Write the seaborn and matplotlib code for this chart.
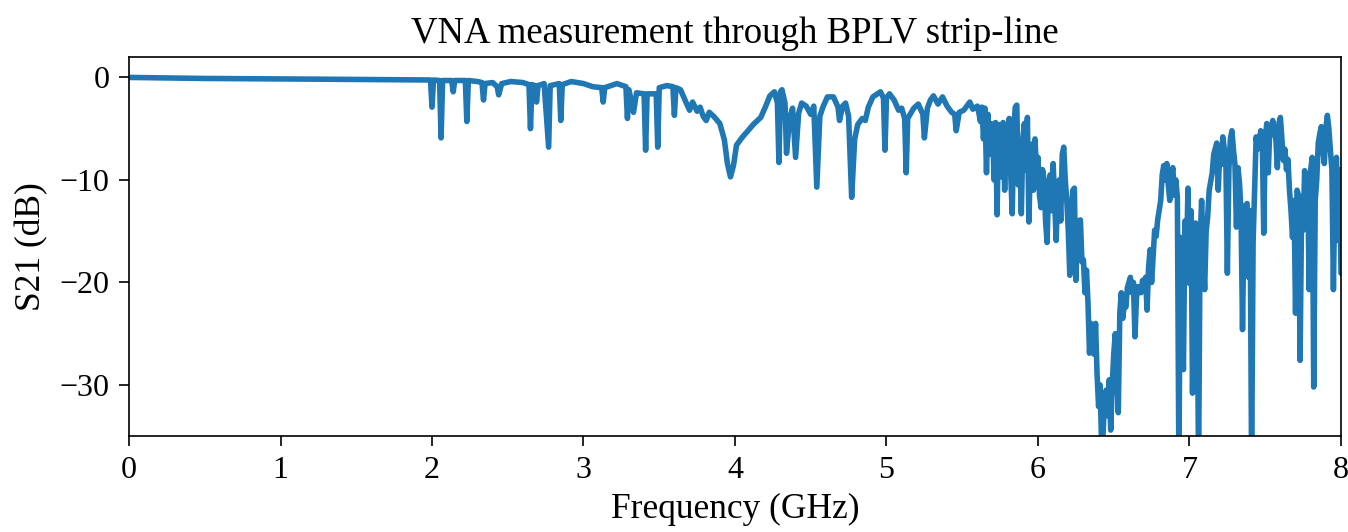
import matplotlib
matplotlib.use("Agg")
import matplotlib.pyplot as plt
import seaborn as sns
import pandas as pd

# ---- data (frequency in GHz, S21 in dB) ----
# flat pass band and isolated notches, 0 - 3.6 GHz
freq_low = [
    0.00, 0.25, 0.50, 0.75, 1.00, 1.25, 1.50, 1.75, 1.99,
    2.00, 2.01, 2.05, 2.06, 2.07, 2.13, 2.14, 2.15, 2.22, 2.23, 2.24,
    2.30, 2.33, 2.34, 2.35, 2.40, 2.43, 2.44, 2.46, 2.52, 2.60,
    2.64, 2.65, 2.66, 2.68, 2.69, 2.70, 2.74, 2.77, 2.78, 2.84, 2.85, 2.86,
    2.92, 3.00, 3.06, 3.12, 3.13, 3.14, 3.22, 3.28, 3.29, 3.30, 3.33, 3.35,
    3.40, 3.41, 3.42, 3.48, 3.49, 3.50, 3.55, 3.59,
]
s21_low = [
    0.00, -0.05, -0.10, -0.12, -0.15, -0.17, -0.20, -0.22, -0.25,
    -2.9, -0.25, -0.3, -5.9, -0.3, -0.3, -1.4, -0.3, -0.3, -4.3, -0.3,
    -0.4, -0.5, -2.2, -0.6, -0.5, -0.9, -1.7, -0.6, -0.4, -0.5,
    -0.7, -5.0, -0.7, -0.8, -2.4, -0.8, -0.6, -6.8, -0.8, -0.6, -4.2, -0.7,
    -0.4, -0.6, -0.9, -1.0, -2.4, -1.0, -0.6, -0.9, -4.0, -1.2, -3.4, -1.5,
    -1.6, -7.1, -1.6, -1.6, -6.8, -1.0, -0.8, -0.9,
]
# 3.6 - 5.6 GHz
freq_mid = [
    3.60, 3.61, 3.64, 3.67, 3.70, 3.72, 3.75, 3.77, 3.79, 3.81, 3.83,
    3.86, 3.90, 3.93, 3.95, 3.97, 3.99, 4.01, 4.05, 4.08, 4.12, 4.17,
    4.20, 4.23, 4.26, 4.28, 4.29, 4.30, 4.31, 4.33, 4.34, 4.36, 4.38,
    4.40, 4.42, 4.44, 4.47, 4.50, 4.52, 4.54, 4.56, 4.58, 4.61, 4.65,
    4.68, 4.69, 4.71, 4.73, 4.75, 4.77, 4.79, 4.81, 4.84, 4.86, 4.88,
    4.91, 4.94, 4.96, 4.98, 4.99, 5.00, 5.02, 5.05, 5.08, 5.10, 5.12,
    5.13, 5.14, 5.16, 5.18, 5.21, 5.24, 5.25, 5.27, 5.29, 5.31, 5.34,
    5.37, 5.40, 5.43, 5.45, 5.46, 5.48, 5.51, 5.53, 5.55, 5.57,
]
s21_mid = [
    -3.7, -1.0, -1.2, -2.2, -3.2, -2.4, -3.3, -2.9, -3.8, -4.2, -3.4,
    -3.8, -4.5, -6.1, -8.4, -9.7, -8.6, -6.6, -5.8, -5.3, -4.6, -3.9,
    -2.9, -1.8, -1.4, -2.5, -8.3, -1.4, -1.2, -2.5, -7.4, -4.0, -3.0,
    -7.8, -3.5, -2.5, -2.8, -3.6, -2.8, -10.7, -3.8, -2.9, -1.9, -1.9,
    -2.9, -4.2, -2.8, -2.5, -3.8, -11.7, -6.0, -4.6, -4.0, -4.2, -2.9,
    -1.9, -1.6, -1.4, -2.0, -7.1, -2.0, -1.6, -2.2, -3.2, -3.0, -4.0,
    -9.3, -4.0, -3.5, -3.0, -2.6, -3.6, -5.9, -3.0, -2.2, -1.8, -2.6,
    -1.9, -2.8, -3.4, -3.6, -5.2, -3.4, -3.2, -2.8, -2.4, -3.1,
]
# roll-off into the deep stop band, 5.6 - 6.8 GHz
freq_roll = [
    5.60, 5.61, 5.62, 5.63, 5.64, 5.65, 5.66, 5.67, 5.68, 5.69, 5.70,
    5.71, 5.72, 5.73, 5.74, 5.75, 5.76, 5.77, 5.78, 5.79, 5.80, 5.81,
    5.82, 5.83, 5.84, 5.85, 5.86, 5.87, 5.88, 5.89, 5.90, 5.91, 5.92,
    5.93, 5.94, 5.95, 5.96, 5.97, 5.98, 5.99, 6.00, 6.01, 6.02, 6.03,
    6.04, 6.05, 6.06, 6.07, 6.08, 6.09, 6.10, 6.11, 6.12, 6.13, 6.14,
    6.15, 6.16, 6.17, 6.18, 6.19, 6.20, 6.21, 6.22, 6.23, 6.24, 6.25,
    6.26, 6.27, 6.28, 6.29, 6.30, 6.31, 6.32, 6.33, 6.34, 6.35, 6.36,
    6.37, 6.38, 6.39, 6.40, 6.41, 6.42, 6.43, 6.44, 6.45, 6.46, 6.47,
    6.48, 6.49, 6.50, 6.51, 6.52, 6.53, 6.54, 6.55, 6.56, 6.57, 6.58,
    6.59, 6.61, 6.62, 6.63, 6.64, 6.65, 6.66, 6.68, 6.69, 6.70, 6.71,
    6.72, 6.73, 6.74, 6.75, 6.76, 6.77, 6.78,
]
s21_roll = [
    -2.8, -3.5, -4.3, -2.9, -6.0, -3.0, -9.3, -3.6, -7.5, -4.5, -4.8,
    -10.0, -4.4, -13.4, -4.6, -4.8, -9.7, -4.4, -11.0, -5.0, -8.0, -4.0,
    -9.5, -13.3, -5.0, -2.9, -2.7, -10.5, -7.0, -13.3, -6.0, -4.5, -9.0,
    -3.9, -14.1, -8.0, -6.5, -11.0, -6.0, -9.0, -7.8, -11.5, -12.7, -9.0,
    -10.0, -14.0, -16.1, -10.5, -9.5, -13.0, -8.4, -12.0, -15.9, -11.0, -10.0,
    -14.0, -7.5, -6.8, -10.0, -12.0, -15.0, -19.3, -13.0, -11.0, -10.8, -19.8,
    -15.0, -14.0, -13.9, -18.0, -17.8, -21.0, -18.8, -22.0, -26.9, -24.0, -25.5,
    -27.0, -24.0, -29.0, -32.1, -30.0, -36.0, -34.7, -31.0, -30.5, -33.0, -29.5,
    -34.4, -30.0, -27.0, -25.0, -29.0, -32.7, -23.0, -21.0, -23.5, -22.0, -22.4,
    -20.5, -19.5, -21.0, -20.0, -25.3, -21.5, -20.4, -21.0, -19.8, -20.5, -19.5,
    -22.7, -18.5, -16.8, -20.0, -17.5, -14.9, -15.5,
]
# ripple of the upper band, 6.8 - 8 GHz
freq_high = [
    6.79, 6.81, 6.82, 6.83, 6.84, 6.85, 6.86, 6.87, 6.88, 6.89, 6.90,
    6.91, 6.92, 6.93, 6.94, 6.95, 6.96, 6.97, 6.98, 6.99, 7.00, 7.01,
    7.02, 7.03, 7.04, 7.05, 7.06, 7.07, 7.08, 7.09, 7.10, 7.11, 7.12,
    7.13, 7.15, 7.16, 7.18, 7.19, 7.20, 7.21, 7.22, 7.23, 7.24, 7.25,
    7.26, 7.27, 7.28, 7.29, 7.30, 7.31, 7.32, 7.33, 7.34, 7.35, 7.36,
    7.37, 7.38, 7.39, 7.40, 7.41, 7.42, 7.43, 7.44, 7.45, 7.46, 7.47,
    7.48, 7.49, 7.50, 7.51, 7.52, 7.53, 7.54, 7.55, 7.56, 7.57, 7.58,
    7.59, 7.60, 7.61, 7.62, 7.63, 7.64, 7.65, 7.66, 7.67, 7.68, 7.69,
    7.70, 7.71, 7.72, 7.73, 7.74, 7.75, 7.76, 7.77, 7.78, 7.79, 7.80,
    7.81, 7.82, 7.83, 7.84, 7.85, 7.86, 7.87, 7.88, 7.89, 7.90, 7.91,
    7.92, 7.93, 7.94, 7.95, 7.96, 7.97, 7.98, 7.99, 8.00,
]
s21_high = [
    -13.9, -12.0, -9.5, -8.6, -10.0, -8.4, -10.5, -12.0, -9.5, -8.8, -11.5,
    -10.0, -11.7, -38.0, -15.6, -23.0, -28.5, -14.0, -18.0, -10.8, -20.1, -13.0,
    -30.8, -17.0, -14.2, -20.0, -38.0, -16.0, -12.0, -17.0, -20.7, -15.0, -13.6,
    -11.0, -9.3, -7.5, -6.4, -11.0, -7.0, -8.5, -5.8, -7.0, -8.0, -19.1,
    -9.0, -6.0, -5.2, -7.0, -8.5, -14.6, -8.8, -10.3, -13.0, -24.6, -14.0,
    -12.5, -12.3, -19.5, -13.0, -38.0, -16.0, -11.0, -5.8, -7.0, -6.5, -5.2,
    -5.5, -15.2, -6.0, -4.5, -9.3, -5.0, -4.8, -4.2, -5.5, -6.0, -8.8,
    -4.5, -3.9, -6.0, -8.1, -7.0, -9.0, -8.0, -11.0, -13.0, -15.6, -12.0,
    -23.0, -11.0, -11.5, -27.6, -13.0, -14.9, -9.1, -12.0, -10.0, -20.7, -9.0,
    -7.8, -30.2, -12.0, -10.0, -6.4, -5.5, -4.8, -7.0, -8.4, -5.0, -3.7,
    -5.0, -7.1, -9.0, -20.7, -10.0, -7.8, -15.9, -9.0, -19.1,
]
x_ticks = [0, 1, 2, 3, 4, 5, 6, 7, 8]
y_ticks = [0, -10, -20, -30]

sns.set_theme(style="ticks", rc={"text.color": "black", "axes.labelcolor": "black",
                                 "xtick.color": "black", "ytick.color": "black",
                                 "axes.edgecolor": "black"})
plt.rcParams["font.family"] = ["Liberation Serif", "DejaVu Serif"]
plt.rcParams["axes.unicode_minus"] = True

df = pd.DataFrame({
    "Frequency (GHz)": freq_low + freq_mid + freq_roll + freq_high,
    "S21 (dB)": s21_low + s21_mid + s21_roll + s21_high,
})

fig = plt.figure(figsize=(13.48, 5.32), dpi=100)
ax = fig.add_axes([0.0957, 0.180, 0.8991, 0.713])
sns.lineplot(data=df, x="Frequency (GHz)", y="S21 (dB)", estimator=None,
             sort=False, color="#1f77b4", linewidth=4.0, ax=ax)

ax.set_xlim(0, 8)
ax.set_ylim(-35, 2)
ax.set_xticks(x_ticks)
ax.set_yticks(y_ticks)
ax.tick_params(axis="both", labelsize=23, length=7, width=1.2, pad=7)
for s in ax.spines.values():
    s.set_linewidth(1.2)
ax.set_xlabel("Frequency (GHz)", fontsize=25.5, labelpad=6)
ax.set_ylabel("S21 (dB)", fontsize=25.5, labelpad=8)
ax.set_title("VNA measurement through BPLV strip-line", fontsize=26.5, pad=10)

fig.savefig("out.png", dpi=100)
